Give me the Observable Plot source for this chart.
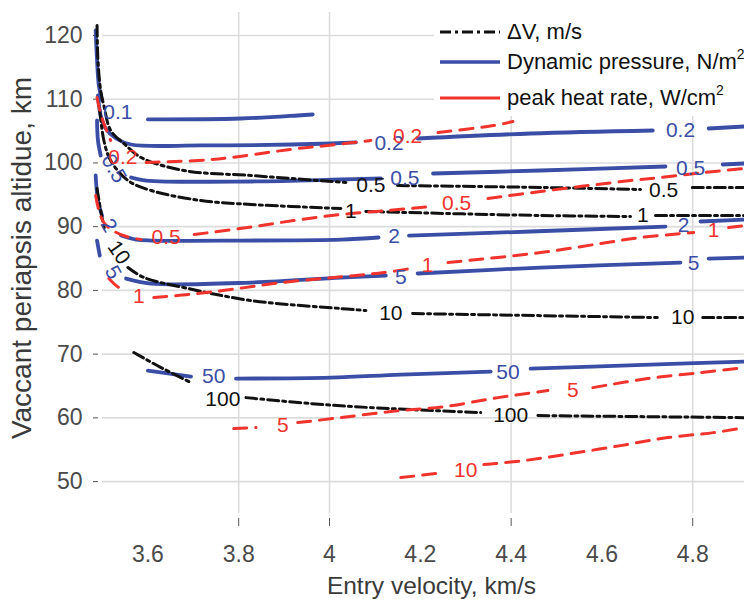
<!DOCTYPE html>
<html><head><meta charset="utf-8">
<script src="https://cdn.jsdelivr.net/npm/d3@7"></script>
<script src="https://cdn.jsdelivr.net/npm/@observablehq/plot@0.6"></script>
<style>
body{margin:0;background:#fff;}
#wrap{position:relative;width:744px;height:599px;overflow:hidden;font-family:"Liberation Sans",Arial,sans-serif;}
#legend{position:absolute;left:434px;top:10px;width:320px;height:106px;background:#fff;}
.row{position:absolute;left:0;height:30px;display:flex;align-items:center;font-size:22px;color:#111;white-space:nowrap;}
.row svg{margin-left:6px;margin-right:7px;flex:none;}
.row sup{font-size:14px;position:relative;top:-2px;}
</style></head><body><div id="wrap"></div>
<script>
// ---- axis ticks ----
const xTickValues = [3.6, 3.8, 4.0, 4.2, 4.4, 4.6, 4.8];
const xTickLabels = ["3.6", "3.8", "4", "4.2", "4.4", "4.6", "4.8"];
const xGridValues = [3.8, 4.0, 4.4, 4.8];
const yTickValues = [50, 60, 70, 80, 90, 100, 110, 120];
const xTitle = "Entry velocity, km/s";
const yTitle = "Vaccant periapsis altidue, km";

// ---- ΔV contours, m/s (null = gap for inline label) ----
const dvHalf = [[3.488,121.57],[3.490,116.08],[3.496,111.37],[3.503,109.01],[3.518,105.09],[3.547,103.05],[3.585,100.85],[3.679,98.81],[3.827,98.03],[3.915,97.56],[4.036,96.93],null,[4.150,96.46],[4.465,96.15],[4.685,95.83],null,[4.799,96.15],[4.914,96.15]];
const dvOne = [[3.494,108.23],[3.503,103.52],[3.518,100.38],[3.556,97.24],[3.607,95.67],[3.717,94.10],[3.827,93.48],[4.025,92.85],null,[4.080,92.38],[4.465,91.75],[4.663,91.59],null,[4.718,91.75],[4.914,91.75]];
const dvTen = [[3.488,95.99],[3.496,92.53],[3.505,89.39],null,[3.556,83.59],[3.591,82.02],[3.679,80.45],[3.827,78.41],[4.025,77.15],[4.080,76.84],null,[4.183,76.37],[4.722,75.74],null,[4.822,75.74],[4.914,75.74]];
const dvHundred = [[3.569,70.25],[3.629,67.89],[3.695,65.53],null,[3.816,63.18],[3.959,62.24],[4.091,61.61],[4.333,60.83],null,[4.459,60.36],[4.914,60.04]];
const dvLabels = [[4.091,96.46,"0.5"],[4.736,95.67,"0.5"],[4.047,92.38,"1"],[4.690,91.75,"1"],[4.135,76.37,"10"],[4.778,75.74,"10"],[3.765,63.0,"100"],[4.399,60.36,"100"]];
const dvWallLabels = [[3.536,85.94,"10"]];

// ---- Dynamic pressure contours, N/m² ----
const qTenth = [[3.485,120.78],[3.488,116.08],[3.492,112.15],[3.499,109.80],null,[3.600,106.82],[3.805,106.97],[3.930,107.44],[3.963,107.60]];
const qFifth = [[3.490,110.58],[3.496,107.44],[3.507,105.40],[3.530,103.83],[3.563,102.89],[3.717,102.74],[4.003,103.05],[4.058,103.21],null,[4.194,103.83],[4.443,104.62],[4.712,105.09],null,[4.835,105.40],[4.914,105.72]];
const qHalf = [[3.488,106.66],[3.490,103.52],[3.496,101.17],null,[3.563,97.71],[3.596,97.24],[3.827,97.09],[4.025,97.40],[4.113,97.56],null,[4.228,98.34],[4.465,98.81],[4.740,99.44],null,[4.866,99.75],[4.914,99.91]];
const qTwo = [[3.485,98.03],[3.490,94.10],[3.499,91.75],null,[3.541,88.61],[3.574,87.98],[3.607,87.82],[3.805,87.82],[4.025,87.98],[4.108,88.30],null,[4.175,88.61],[4.443,89.24],[4.740,90.02],null,[4.817,90.81],[4.914,91.12]];
const qFive = [[3.488,87.82],[3.494,85.47],null,[3.552,81.86],[3.607,81.08],[3.827,81.23],[4.025,82.02],[4.124,82.33],null,[4.194,82.65],[4.465,83.59],[4.773,84.37],null,[4.835,85.00],[4.914,85.16]];
const qFifty = [[3.600,67.42],[3.695,66.48],null,[3.794,66.17],[4.003,66.32],[4.157,66.79],[4.355,67.26],null,[4.443,67.73],[4.707,68.36],[4.914,68.83]];
const qLabels = [[4.131,103.05,"0.2"],[4.773,105.09,"0.2"],[4.166,97.56,"0.5"],[4.795,99.12,"0.5"],[4.142,88.45,"2"],[4.780,90.18,"2"],[4.157,82.02,"5"],[4.802,84.22,"5"],[3.745,66.6,"50"],[4.393,67.11,"50"],[3.534,107.91,"0.1"]];
const qWallLabels = [[3.525,99.12,"0.5"],[3.514,90.18,"2"],[3.523,82.80,"5"]];

// ---- Peak heat rate contours, W/cm² ----
const hFifth = [[3.488,110.27],[3.494,108.23],[3.503,106.19],[3.518,103.52],null,[3.596,100.07],[3.710,100.38],[3.783,100.85],[3.864,101.64],[3.930,102.26],[3.996,102.74],[4.091,103.52],null,[4.239,104.78],[4.362,105.87],[4.404,106.50]];
const hHalf = [[3.485,94.89],[3.492,92.53],[3.503,90.65],[3.523,89.39],[3.552,88.45],[3.585,87.98],null,[3.702,88.77],[3.820,89.87],[3.921,90.96],[4.025,91.91],[4.128,92.53],[4.223,93.16],null,[4.349,94.41],[4.465,95.52],[4.663,97.24],[4.729,97.71],[4.824,98.50],[4.914,99.12]];
const hOne = [[3.514,81.86],[3.530,80.76],[3.547,79.98],null,[3.613,78.88],[3.710,79.51],[3.798,80.29],[3.893,81.23],[4.010,82.02],[4.120,82.80],[4.179,83.43],null,[4.261,84.37],[4.465,85.94],[4.597,87.35],[4.685,88.30],[4.802,89.08],null,[4.879,89.87],[4.914,90.18]];
const hFive = [[3.789,58.32],[3.838,58.48],null,[3.930,59.26],[4.025,60.04],[4.135,60.99],[4.254,61.77],[4.371,63.18],[4.481,64.28],null,[4.580,64.75],[4.701,66.17],[4.817,67.11],[4.914,67.89]];
const hTen = [[4.157,50.63],[4.252,51.41],null,[4.340,52.67],[4.428,53.30],[4.531,54.39],[4.641,55.65],[4.745,56.91],[4.846,57.69],[4.914,58.48]];
const hLabels = [[3.545,100.85,"0.2"],[4.172,104.2,"0.2"],[3.640,88.30,"0.5"],[4.280,93.63,"0.5"],[3.580,79.04,"1"],[4.216,83.90,"1"],[4.846,89.39,"1"],[3.897,58.79,"5"],[4.536,64.28,"5"],[4.300,51.73,"10"]];

const BLUE = "#3a4ea6", RED = "#f0332d", BLACK = "#111";
const px = d => d ? d[0] : NaN, py = d => d ? d[1] : NaN;

const blueLine = data => Plot.line(data, {x: px, y: py, stroke: BLUE, strokeWidth: 3.8, curve: "catmull-rom"});
const blackLine = data => Plot.line(data, {x: px, y: py, stroke: BLACK, strokeWidth: 3, strokeDasharray: "11,4,3,4", curve: "catmull-rom"});
const redLine = data => Plot.line(data, {x: px, y: py, stroke: RED, strokeWidth: 3, strokeDasharray: "13,9", curve: "catmull-rom"});
const labels = (data, fill, rotate = 0) => Plot.text(data, {x: px, y: py, text: d => d[2], fill, fontSize: 21, textAnchor: "middle", lineAnchor: "middle", rotate});

const chart = Plot.plot({
  width: 744, height: 599,
  marginLeft: 102, marginRight: 0, marginTop: 12, marginBottom: 86,
  x: {domain: [3.5, 4.914]},
  y: {domain: [45, 123.6]},
  style: {fontFamily: "'Liberation Sans', Arial, sans-serif", background: "white", overflow: "visible"},
  marks: [
    Plot.gridY(yTickValues, {stroke: "#dcdcdc", strokeOpacity: 1, strokeWidth: 1.6}),
    Plot.gridX(xGridValues, {stroke: "#dcdcdc", strokeOpacity: 1, strokeWidth: 1.6}),
    Plot.axisY(yTickValues, {tickSize: 5, dx: -4, tickPadding: 11, fontSize: 23, stroke: "#555", fill: "#4a4a4a", label: null}),
    Plot.axisX(xGridValues, {tickSize: 8, dy: 5, tickFormat: () => "", stroke: "#555", label: null}),
    Plot.axisX(xTickValues, {tickSize: 0, tickPadding: 32, fontSize: 23, fill: "#4a4a4a", label: null,
      tickFormat: d => xTickLabels[xTickValues.indexOf(d)]}),
    Plot.text([xTitle], {text: d => d, frameAnchor: "bottom", textAnchor: "middle", dx: 8, dy: 73, fontSize: 24.5, fill: "#3a3a3a", lineAnchor: "middle"}),
    Plot.text([yTitle], {text: d => d, frameAnchor: "left", textAnchor: "middle", rotate: -90, dx: -80, dy: -5, fontSize: 28, fill: "#3a3a3a", lineAnchor: "middle"}),
    ...[qTenth, qFifth, qHalf, qTwo, qFive, qFifty].map(blueLine),
    ...[dvHalf, dvOne, dvTen, dvHundred].map(blackLine),
    ...[hFifth, hHalf, hOne, hFive, hTen].map(redLine),
    labels(qLabels, BLUE),
    labels(qWallLabels, BLUE, 60),
    labels(dvLabels, BLACK),
    labels(dvWallLabels, BLACK, 55),
    labels(hLabels, RED)
  ]
});

const wrap = document.getElementById("wrap");
wrap.appendChild(chart);

const legend = document.createElement("div");
legend.id = "legend";
legend.innerHTML = `
  <div class="row" style="top:7px"><svg width="60" height="8"><line x1="0" x2="60" y1="4" y2="4" stroke="${BLACK}" stroke-width="3" stroke-dasharray="11,4,3,4"/></svg><span>ΔV, m/s</span></div>
  <div class="row" style="top:37px"><svg width="60" height="8"><line x1="0" x2="60" y1="4" y2="4" stroke="${BLUE}" stroke-width="3.6"/></svg><span>Dynamic pressure, N/m<sup>2</sup></span></div>
  <div class="row" style="top:73px"><svg width="60" height="8"><line x1="0" x2="60" y1="4" y2="4" stroke="${RED}" stroke-width="3"/></svg><span>peak heat rate, W/cm<sup>2</sup></span></div>`;
wrap.appendChild(legend);
</script></body></html>
